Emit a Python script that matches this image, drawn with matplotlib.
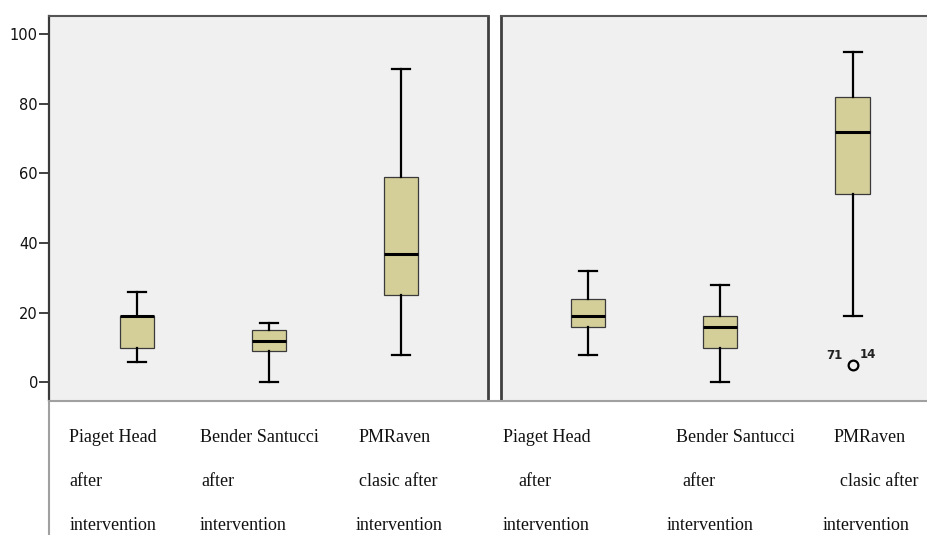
import matplotlib
matplotlib.use("Agg")
import matplotlib.pyplot as plt
from matplotlib.lines import Line2D

# ---------------- data ----------------
categories = [
    ["Piaget Head", "after", "intervention"],
    ["Bender Santucci", "after", "intervention"],
    ["PMRaven", "clasic after", "intervention"],
]

left_whislo = [6, 0, 8]
left_q1 = [10, 9, 25]
left_med = [19, 12, 37]
left_q3 = [19, 15, 59]
left_whishi = [26, 17, 90]
left_outliers = [[], [], []]

right_whislo = [8, 0, 19]
right_q1 = [16, 10, 54]
right_med = [19, 16, 72]
right_q3 = [24, 19, 82]
right_whishi = [32, 28, 95]
right_outliers = [[], [], [5]]
right_outlier_ids = ["71", "14"]

yticks = [0, 20, 40, 60, 80, 100]

# ---------------- layout ----------------
W, H = 927, 535
fig = plt.figure(figsize=(W / 100, H / 100), dpi=100, facecolor="white")

def fx(px):
    return px / W

def fy(py):
    return 1 - py / H

top_px, bot_px = 15.7, 399.5
ax1 = fig.add_axes([fx(49.3), fy(bot_px), (487.7 - 49.3) / W, (bot_px - top_px) / H])
ax2 = fig.add_axes([fx(500.5), fy(bot_px), (927 - 500.5) / W, (bot_px - top_px) / H])

BG = "#f0f0f0"
FACE = "#d4ce98"

def make_stats(lo, q1, med, q3, hi, fl):
    return [dict(whislo=a, q1=b, med=c, q3=d, whishi=e, fliers=f)
            for a, b, c, d, e, f in zip(lo, q1, med, q3, hi, fl)]

common = dict(
    positions=[1, 2, 3], widths=0.258, capwidths=0.136, patch_artist=True,
    showfliers=True,
    boxprops=dict(facecolor=FACE, edgecolor="#3a3a3a", linewidth=0.9),
    whiskerprops=dict(color="black", linewidth=1.6),
    capprops=dict(color="black", linewidth=1.6),
    medianprops=dict(color="black", linewidth=2.2),
    flierprops=dict(marker="o", markerfacecolor="none", markeredgecolor="black",
                    markersize=7, markeredgewidth=1.6),
)

ax1.bxp(make_stats(left_whislo, left_q1, left_med, left_q3, left_whishi, left_outliers), **common)
ax2.bxp(make_stats(right_whislo, right_q1, right_med, right_q3, right_whishi, right_outliers), **common)

ymin, ymax = -4.9, 105.3
for ax in (ax1, ax2):
    ax.set_facecolor(BG)
    ax.set_ylim(ymin, ymax)
    ax.set_xticks([])
    ax.spines["bottom"].set_visible(False)
    ax.spines["top"].set_color("#555555")
    ax.spines["top"].set_linewidth(1.5)

ax1.set_xlim(0.336, 3.657)
ax2.set_xlim(0.338, 3.563)

ax1.spines["left"].set_color("#3a3a3a")
ax1.spines["left"].set_linewidth(1.6)
ax1.spines["right"].set_color("#404040")
ax1.spines["right"].set_linewidth(2.0)
ax2.spines["left"].set_color("#404040")
ax2.spines["left"].set_linewidth(2.0)
ax2.spines["right"].set_visible(False)

ax1.set_yticks(yticks)
ax1.set_yticklabels([str(t) for t in yticks], fontfamily="DejaVu Sans",
                    fontsize=10.5, color="#111111")
ax1.tick_params(axis="y", length=7.2, width=1.3, color="#333333", pad=1)
ax2.set_yticks([])

# outlier case labels
ox, oy = 3, right_outliers[2][0]
ax2.annotate(right_outlier_ids[0], (ox, oy), xytext=(-10, 10), textcoords="offset pixels",
             ha="right", va="center", fontsize=8.5, fontweight="bold", color="#222222",
             fontfamily="DejaVu Sans")
ax2.annotate(right_outlier_ids[1], (ox, oy), xytext=(7, 11), textcoords="offset pixels",
             ha="left", va="center", fontsize=8.5, fontweight="bold", color="#222222",
             fontfamily="DejaVu Sans")

# grey frame of label area
fig.add_artist(Line2D([fx(49.3), 1.0], [fy(400.5), fy(400.5)], color="#a0a0a0", linewidth=1.5))
fig.add_artist(Line2D([fx(49.3), fx(49.3)], [fy(400.5), 0.0], color="#a0a0a0", linewidth=1.5))

# category labels below each panel (left edges in px, baselines in px)
label_x = [
    [69.3, 69.3, 69.3], [200, 201.7, 200], [358.3, 359, 356],
    [503.3, 518.3, 502.7], [675.7, 682.7, 666.7], [833.3, 840, 822.3],
]
row_base = [442, 486, 530]
all_labels = categories + categories
for lines, xs in zip(all_labels, label_x):
    for txt, x, yb in zip(lines, xs, row_base):
        fig.text(fx(x), fy(yb), txt, ha="left", va="baseline",
                 fontfamily="Liberation Serif", fontsize=13, color="#111111")

fig.savefig("out.png", dpi=100, facecolor="white")
